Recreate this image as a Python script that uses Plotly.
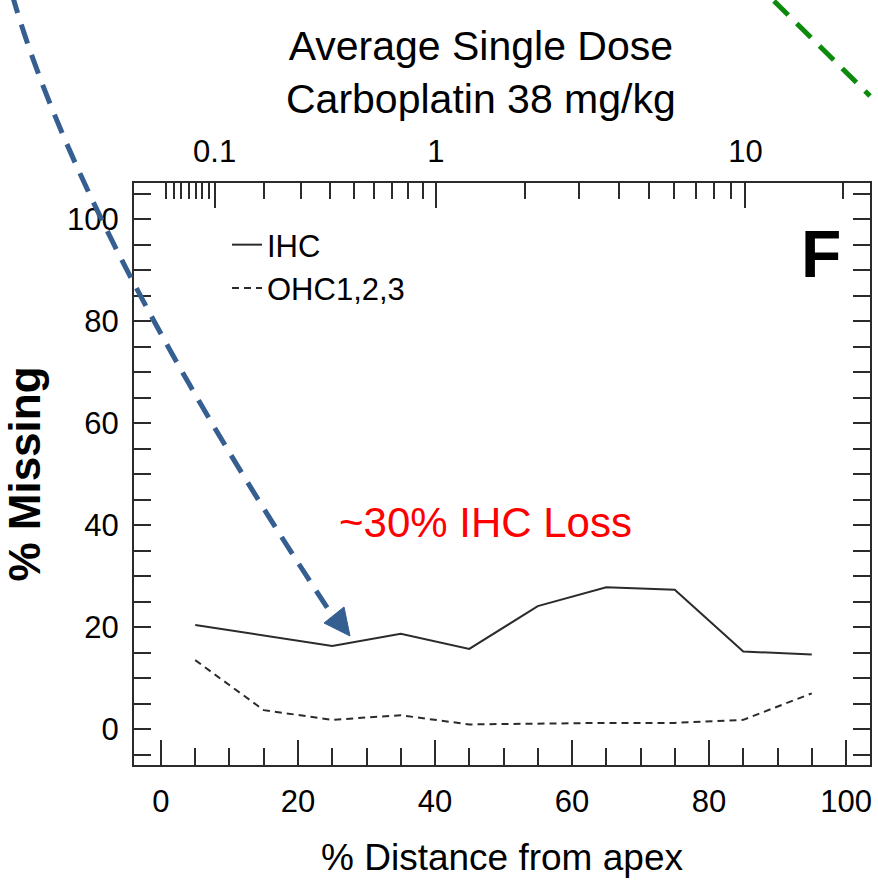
import math
import plotly.graph_objects as go

# ---------------- data ----------------
distance_pct = [5, 15, 25, 35, 45, 55, 65, 75, 85, 95]
ihc_missing = [20.4, 18.3, 16.3, 18.7, 15.7, 24.1, 27.8, 27.3, 15.2, 14.6]
ohc_missing = [13.5, 3.7, 1.8, 2.7, 0.9, 1.1, 1.2, 1.2, 1.8, 7.0]

x_major_ticks = [0, 20, 40, 60, 80, 100]
y_major_ticks = [0, 20, 40, 60, 80, 100]

top_major_khz = [0.1, 1, 10]
top_major_labels = ["0.1", "1", "10"]
top_minor_khz = [0.03, 0.04, 0.05, 0.06, 0.07, 0.08, 0.09,
                 0.2, 0.3, 0.4, 0.5, 0.6, 0.7, 0.8, 0.9,
                 2, 3, 4, 5, 6, 7, 8, 9, 20]

title_text = "Average Single Dose<br>Carboplatin 38 mg/kg"
x_title = "% Distance from apex"
y_title = "% Missing"
panel_label = "F"
note_text = "~30% IHC Loss"


# chinchilla frequency-place map (Greenwood) for the top axis scale
def khz_to_pct(f):
    return math.log10(f / 0.1638 + 0.85) / 2.1 * 100


FONT = "Liberation Sans, Arial, Helvetica, sans-serif"
INK = "#2b2b2b"

W, H = 878, 886
L, R, T, B = 134, 8, 183, 121
PW, PH = W - L - R, H - T - B


def pp(px, py):
    return (px - L) / PW, (H - B - py) / PH


fig = go.Figure()
fig.add_trace(go.Scatter(x=distance_pct, y=ihc_missing, mode="lines", name="IHC",
                         line=dict(color=INK, width=2)))
fig.add_trace(go.Scatter(x=distance_pct, y=ohc_missing, mode="lines", name="OHC1,2,3",
                         line=dict(color=INK, width=2, dash="7px,5px")))
# carrier for the top frequency axis
fig.add_trace(go.Scatter(x=[None], y=[None], xaxis="x2", yaxis="y", mode="lines",
                         showlegend=False, hoverinfo="skip"))

tickfont = dict(family=FONT, size=31, color="black")
xr = [-3.94, 103.5]
fig.update_layout(
    width=W, height=H,
    margin=dict(l=L, r=R, t=T, b=B, autoexpand=False),
    paper_bgcolor="white", plot_bgcolor="white",
    font=dict(family=FONT, color="black", size=31),
    showlegend=True,
    legend=dict(x=pp(227, 0)[0], y=pp(0, 218)[1], xanchor="left", yanchor="top",
                bgcolor="rgba(0,0,0,0)", font=dict(family=FONT, size=31), tracegroupgap=0),
    xaxis=dict(range=xr, tickmode="array", tickvals=x_major_ticks, tickfont=tickfont,
               ticks="inside", ticklen=25, tickwidth=2, tickcolor=INK,
               minor=dict(dtick=5, tick0=0, ticks="inside", ticklen=17, tickwidth=2, tickcolor=INK),
               showline=True, linecolor=INK, linewidth=2, mirror=True,
               showgrid=False, zeroline=False, ticklabelstandoff=8,
               title=dict(text=x_title, font=dict(size=37), standoff=26)),
    xaxis2=dict(range=xr, overlaying="x", side="top", anchor="y",
                tickmode="array", tickvals=[khz_to_pct(f) for f in top_major_khz],
                ticktext=top_major_labels, tickfont=tickfont,
                ticks="inside", ticklen=25, tickwidth=2, tickcolor=INK,
                minor=dict(tickmode="array", tickvals=[khz_to_pct(f) for f in top_minor_khz],
                           ticks="inside", ticklen=16, tickwidth=2, tickcolor=INK),
                showline=True, linecolor=INK, linewidth=2,
                showgrid=False, zeroline=False, ticklabelstandoff=7),
    yaxis=dict(range=[-7.06, 107.1], tickmode="array", tickvals=y_major_ticks, tickfont=tickfont,
               ticks="inside", ticklen=17, tickwidth=2, tickcolor=INK,
               minor=dict(dtick=5, tick0=0, ticks="inside", ticklen=11, tickwidth=2, tickcolor=INK),
               showline=True, linecolor=INK, linewidth=2, mirror="allticks",
               showgrid=False, zeroline=False, ticklabelstandoff=7,
               title=dict(text="<b>" + y_title + "</b>", font=dict(size=44), standoff=20)),
)

# title, panel label and note
fig.add_annotation(xref="paper", yref="paper", x=pp(481, 0)[0], y=pp(0, 72)[1],
                   text=title_text, showarrow=False, xanchor="center", yanchor="middle",
                   font=dict(size=41, color="black"))
fig.add_annotation(xref="paper", yref="paper", x=pp(821, 0)[0], y=pp(0, 254)[1],
                   text="<b>" + panel_label + "</b>", showarrow=False, xanchor="center",
                   yanchor="middle", font=dict(size=66, color="black"))
fig.add_annotation(xref="paper", yref="paper", x=pp(485, 0)[0], y=pp(0, 522)[1],
                   text=note_text, showarrow=False, xanchor="center", yanchor="middle",
                   font=dict(size=42, color="#ff0000"))

# blue dashed curved arrow (overlay decoration)
def path_from(points, cmds):
    parts = []
    i = 0
    for c in cmds:
        n = 3 if c == "C" else 1
        coords = []
        for _ in range(n):
            x, y = pp(*points[i]); i += 1
            coords.append(f"{x:.5f},{y:.5f}")
        parts.append(c + " ".join(coords))
    return " ".join(parts)

blue = "#355e91"
curve = path_from([(12, -6), (68, 190), (210, 430), (334, 618)], ["M", "C"])
fig.add_shape(type="path", xref="paper", yref="paper", path=curve,
              line=dict(color=blue, width=5, dash="20px,12px"), layer="above")
head = path_from([(350, 636), (324, 623), (344, 607)], ["M", "L", "L"]) + " Z"
fig.add_shape(type="path", xref="paper", yref="paper", path=head,
              fillcolor=blue, line=dict(color=blue, width=1), layer="above")

# green dashed line at top right (overlay decoration)
g0, g1 = pp(774, 1), pp(870, 96)
fig.add_shape(type="line", xref="paper", yref="paper", x0=g0[0], y0=g0[1], x1=g1[0], y1=g1[1],
              line=dict(color="#0c8a0c", width=5, dash="20px,12px"), layer="above")

fig.write_html("out.html")
